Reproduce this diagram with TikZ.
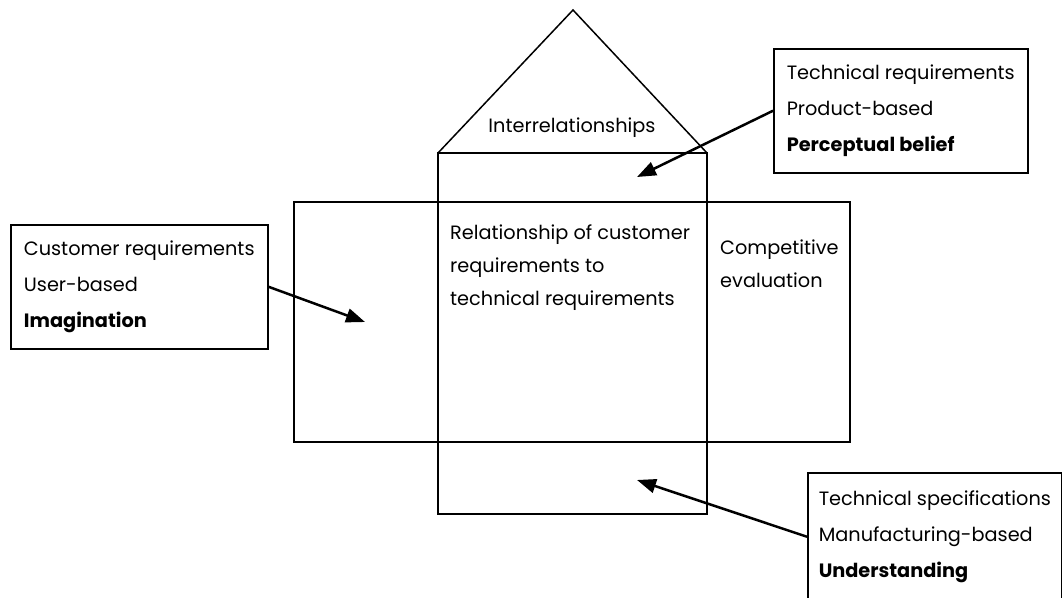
\documentclass[tikz,border=0pt]{standalone}
\usepackage{fontspec}
\setmainfont{Poppins}
\usetikzlibrary{arrows.meta,positioning}

\begin{document}
\begin{tikzpicture}
            [x=1pt,y=-1pt,
             housepart/.style ={draw,line width=1.5pt},
             inlabel/.style ={inner sep=0pt,align=left,font=\fontsize{19.3}{33}\selectfont},
             reqbox/.style ={draw,line width=1.5pt,align=left,minimum height=124pt,anchor=north west,font=\fontsize{19.3}{36}\selectfont},
             arrowto/.style ={line width=2.5pt,-{Triangle[length=19pt,width=14pt]}}]
            \useasboundingbox (0,0) rectangle (1062,597);
            \clip (0,0) rectangle (1062,597);
            \draw[housepart] (294,202) rectangle (850,442);
            \draw[housepart] (438,153) rectangle (707,514);
            \draw[housepart] (438,153) -- (573,10) -- (707,153);
            \node[inlabel] (roof) at (572,128) {Interrelationships};
            \node[inlabel][anchor=north west] (matrix) at (450,225) {Relationship of customer\\requirements to\\technical requirements};
            \node[inlabel][anchor=north west] (compete) at (720,240) {Competitive\\evaluation};
            \node[reqbox][minimum width=257pt] (cust) at (10,224) {Customer requirements\\User-based\\\textbf{Imagination}};
            \node[reqbox][minimum width=254pt] (treq) at (773,48) {Technical requirements\\Product-based\\\textbf{Perceptual belief}};
            \node[reqbox][inner xsep=11pt,minimum height=128pt] (tspec) at (807,472) {Technical specifications\hspace{30pt}\\Manufacturing-based\\\textbf{Understanding}};
            \coordinate (tipc) at (365,322);
            \coordinate (tipt) at (637,177);
            \coordinate (tips) at (637,480);
            \draw[arrowto] (cust.east) -- (tipc);
            \draw[arrowto] (treq.west) -- (tipt);
            \draw[arrowto] (tspec.west) -- (tips);
\end{tikzpicture}
\end{document}
